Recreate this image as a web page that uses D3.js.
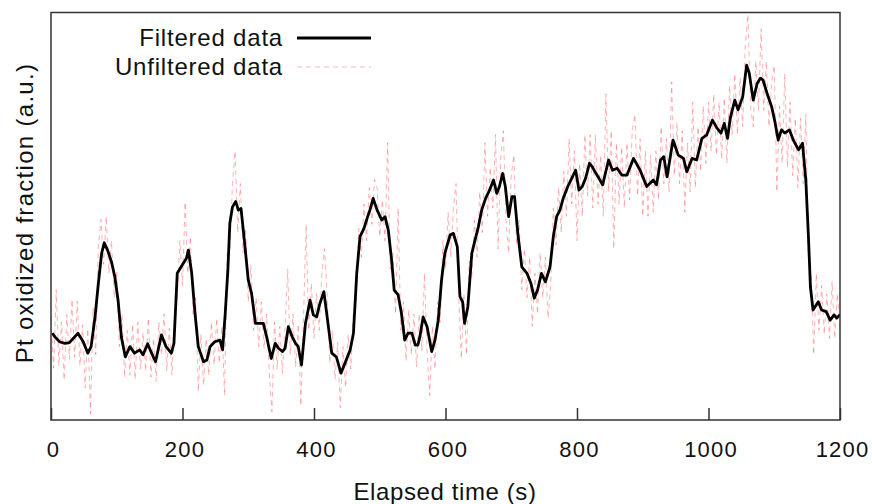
<!DOCTYPE html>
<html>
<head>
<meta charset="utf-8">
<script src="https://cdn.jsdelivr.net/npm/d3@7"></script>
<style>
  body { margin:0; background:#fff; }
  svg text { font-family: "Liberation Sans", Arial, sans-serif; fill:#111; }
</style>
</head>
<body>
<div id="chart"></div>
<script>
/* ── data (y in arbitrary units 0..100) ── */
const xTicks = [0, 200, 400, 600, 800, 1000, 1200];

// filtered signal: time (s) / value
const filtT = [2,6,13,21,28,41,49,56,61,67,72,77,81,86,92,97,102,107,113,120,
  127,135,140,147,153,159,168,175,183,187,192,198,206,209,214,219,224,232,237,242,
  249,257,261,265,269,272,276,281,285,289,294,300,305,311,318,323,328,335,341,346,
  352,356,361,367,372,376,381,387,394,399,404,409,415,420,427,434,441,447,455,460,
  465,470,476,480,485,490,496,503,508,513,518,522,528,533,538,543,549,554,558,561,
  566,572,579,584,589,594,599,607,612,618,622,626,629,634,640,645,650,655,661,667,
  673,678,682,687,691,696,701,705,710,716,724,730,735,740,746,752,759,764,769,774,
  779,786,792,798,803,808,813,819,823,826,832,839,848,854,861,868,876,886,896,906,
  916,921,927,932,937,946,954,962,967,975,982,990,997,1006,1013,1019,1024,1029,1033,1040,
  1045,1052,1058,1062,1068,1074,1079,1083,1089,1096,1101,1106,1111,1116,1123,1129,1137,1143,1148,1152,
  1155,1159,1167,1172,1179,1185,1191,1195,1200];
const filtV = [21.3,20.4,19.2,18.8,19.0,21.3,19.2,16.4,18.0,25.3,33.5,40.9,43.5,41.7,38.8,35.2,29.4,20.4,15.5,18.0,
  16.4,17.2,16.0,18.7,16.4,14.3,20.9,18.0,16.4,18.8,36.0,37.6,39.7,41.7,36.0,26.2,18.0,14.3,14.7,18.0,
  19.2,19.6,17.2,26.2,36.8,48.3,52.3,53.6,51.5,51.9,44.2,34.4,31.1,23.7,23.7,23.7,20.4,15.1,18.8,17.6,
  16.8,17.6,22.9,20.4,18.8,18.0,13.5,23.7,29.4,25.8,25.3,28.6,31.5,25.3,16.4,15.5,11.5,13.9,17.2,21.3,
  36.0,45.0,47.0,49.1,51.5,54.4,51.5,49.1,49.9,46.6,39.3,31.9,30.7,26.2,19.6,21.3,21.3,18.4,18.4,20.4,
  25.3,22.9,16.8,19.6,24.5,34.4,40.9,45.4,45.8,42.5,30.3,29.0,23.7,27.8,40.9,44.2,47.4,51.5,54.4,56.4,
  58.9,55.6,57.3,60.5,57.3,49.9,54.8,54.8,45.8,37.6,36.0,33.5,29.9,31.9,36.0,33.9,37.6,45.0,49.9,51.5,
  54.4,57.3,59.3,61.3,56.4,57.3,59.3,63.0,62.2,61.3,59.7,57.7,63.8,61.3,61.8,60.1,60.1,64.2,61.3,57.3,
  58.9,57.7,63.8,64.6,59.7,68.7,65.0,64.2,60.9,64.2,63.8,69.1,69.9,73.6,71.6,70.4,72.8,69.1,74.0,78.5,
  76.1,79.3,87.1,85.1,78.5,82.6,83.9,83.4,80.2,76.9,73.2,68.7,71.2,70.4,71.2,68.7,66.3,67.9,58.9,45.0,
  32.7,27.0,29.0,27.0,26.6,24.5,25.8,25.0,25.8];

// unfiltered signal, one sample every 4 s from 0 to 1200 s
const rawStep = 4;
const rawV = [
  24.5,12.7,32,13.3,24,9.8,25.9,15,29.6,15.4,
  29.2,13.3,23.3,7.8,22.4,1.5,27.5,16,42.3,49.2,
  38.2,50,36,44,30,36.5,18,26,10.5,22,
  11,23.5,10,24,12.5,21.5,12,25,10.5,20,
  9.5,24,16,26,12,22.5,11,26,30,44,
  33,53.5,36,45,26,30,7,21,8.5,20,
  11,24,13.5,25,14,23,6,41,42,58,
  66,46,58,41,47,29,38,22,30,18,
  29,17.5,26,11.5,2,24,12.5,23,11.5,23,
  37,16,26,13,23.5,3.5,25,48,22,33.5,
  20,31,22,36,42,31,14,22,10,19,
  3,18,8,21,12.5,27,28,47,40,53,
  44,57,48,59,57,45,54,44,68,37,
  41,26,52,22,29,14.5,27,16,26,13,
  26,17,36,17,6,23,12.5,29,24,44,
  37,51,40,52,58,31,15,31,16,39,
  35,49,40,56,46,68,50,62,52,70,
  42,64,71,49,41,60,65,43,49,32,
  42,30,40,23,36,26,41,30,40,25,
  33,52,43,57,46,61,50,69,53,66,
  44,63,50,70,55,70,52,70,53,65,
  50,80,56,71,42,68,53,67,52,68,
  54,71,75,55,69,50,66,50,65,51,
  66,54,72,58,69,56,83,60,73,58,
  71,51,68,56,78,57,72,61,77,63,
  78,66,80,65,78,64,79,63,82,70,
  85,70,84,72,92,99.5,77,72,88,76,
  96,76,88,72,83,87,56,77,63,85,
  62,78,60,74,57,74,58,75,40,36,
  16,36,22,33,21,31,20,34,20,31,
  22];

/* ── layout ── */
const WIDTH = 872, HEIGHT = 504;
const PLOT = {left:51, right:840, top:12.5, bottom:420};

const svg = d3.select('#chart').append('svg')
  .attr('width', WIDTH).attr('height', HEIGHT);

const x = d3.scaleLinear().domain([0,1200]).range([PLOT.left, PLOT.right]);
const y = d3.scaleLinear().domain([0,100]).range([PLOT.bottom, PLOT.top]);

svg.append('clipPath').attr('id','clip')
  .append('rect')
  .attr('x', PLOT.left).attr('y', PLOT.top)
  .attr('width', PLOT.right-PLOT.left).attr('height', PLOT.bottom-PLOT.top);

const line = d3.line().x(d=>x(d[0])).y(d=>y(d[1]));

const raw = rawV.map((v,i)=>[i*rawStep, v]);
const filt = filtT.map((t,i)=>[t, filtV[i]]);

const RAW_STYLE = {stroke:'#ff4040', opacity:0.45, width:0.9, dash:'5,4'};

svg.append('path')
  .datum(raw)
  .attr('clip-path','url(#clip)')
  .attr('fill','none')
  .attr('stroke',RAW_STYLE.stroke)
  .attr('stroke-opacity',RAW_STYLE.opacity)
  .attr('stroke-width',RAW_STYLE.width)
  .attr('stroke-dasharray',RAW_STYLE.dash)
  .attr('d',line);

svg.append('path')
  .datum(filt)
  .attr('clip-path','url(#clip)')
  .attr('fill','none')
  .attr('stroke','#000')
  .attr('stroke-width',2.8)
  .attr('stroke-linejoin','round')
  .attr('d',line);

// frame
svg.append('rect')
  .attr('x', PLOT.left).attr('y', PLOT.top)
  .attr('width', PLOT.right-PLOT.left).attr('height', PLOT.bottom-PLOT.top)
  .attr('fill','none').attr('stroke','#333').attr('stroke-width',1.5);

// x axis, ticks pointing inward
const xAxis = svg.append('g')
  .attr('transform',`translate(0,${PLOT.bottom})`)
  .call(d3.axisBottom(x).tickValues(xTicks).tickFormat(d3.format('d'))
    .tickSizeInner(-12).tickSizeOuter(0).tickPadding(21));
xAxis.select('.domain').remove();
xAxis.selectAll('.tick line').attr('stroke','#333').attr('stroke-width',1.5);
xAxis.selectAll('.tick text')
  .attr('font-size',22).attr('letter-spacing',1.2).attr('dx',2)
  .attr('font-family','"Liberation Sans", Arial, sans-serif').attr('fill','#111');

// axis titles
svg.append('text')
  .attr('x',445).attr('y',500)
  .attr('text-anchor','middle').attr('font-size',24).attr('letter-spacing',0.6)
  .text('Elapsed time (s)');

svg.append('text')
  .attr('transform','translate(33,213) rotate(-90)')
  .attr('text-anchor','middle').attr('font-size',24).attr('letter-spacing',1.3)
  .text('Pt oxidized fraction (a.u.)');

// legend
const legend = svg.append('g');
legend.append('text').attr('x',283).attr('y',46)
  .attr('text-anchor','end').attr('font-size',24).attr('letter-spacing',0.8)
  .text('Filtered data');
legend.append('line').attr('x1',297).attr('x2',371).attr('y1',38).attr('y2',38)
  .attr('stroke','#000').attr('stroke-width',2.8);
legend.append('text').attr('x',283).attr('y',75)
  .attr('text-anchor','end').attr('font-size',24).attr('letter-spacing',0.8)
  .text('Unfiltered data');
legend.append('line').attr('x1',297).attr('x2',371).attr('y1',67).attr('y2',67)
  .attr('stroke',RAW_STYLE.stroke).attr('stroke-opacity',RAW_STYLE.opacity)
  .attr('stroke-width',RAW_STYLE.width).attr('stroke-dasharray',RAW_STYLE.dash);
</script>
</body>
</html>
